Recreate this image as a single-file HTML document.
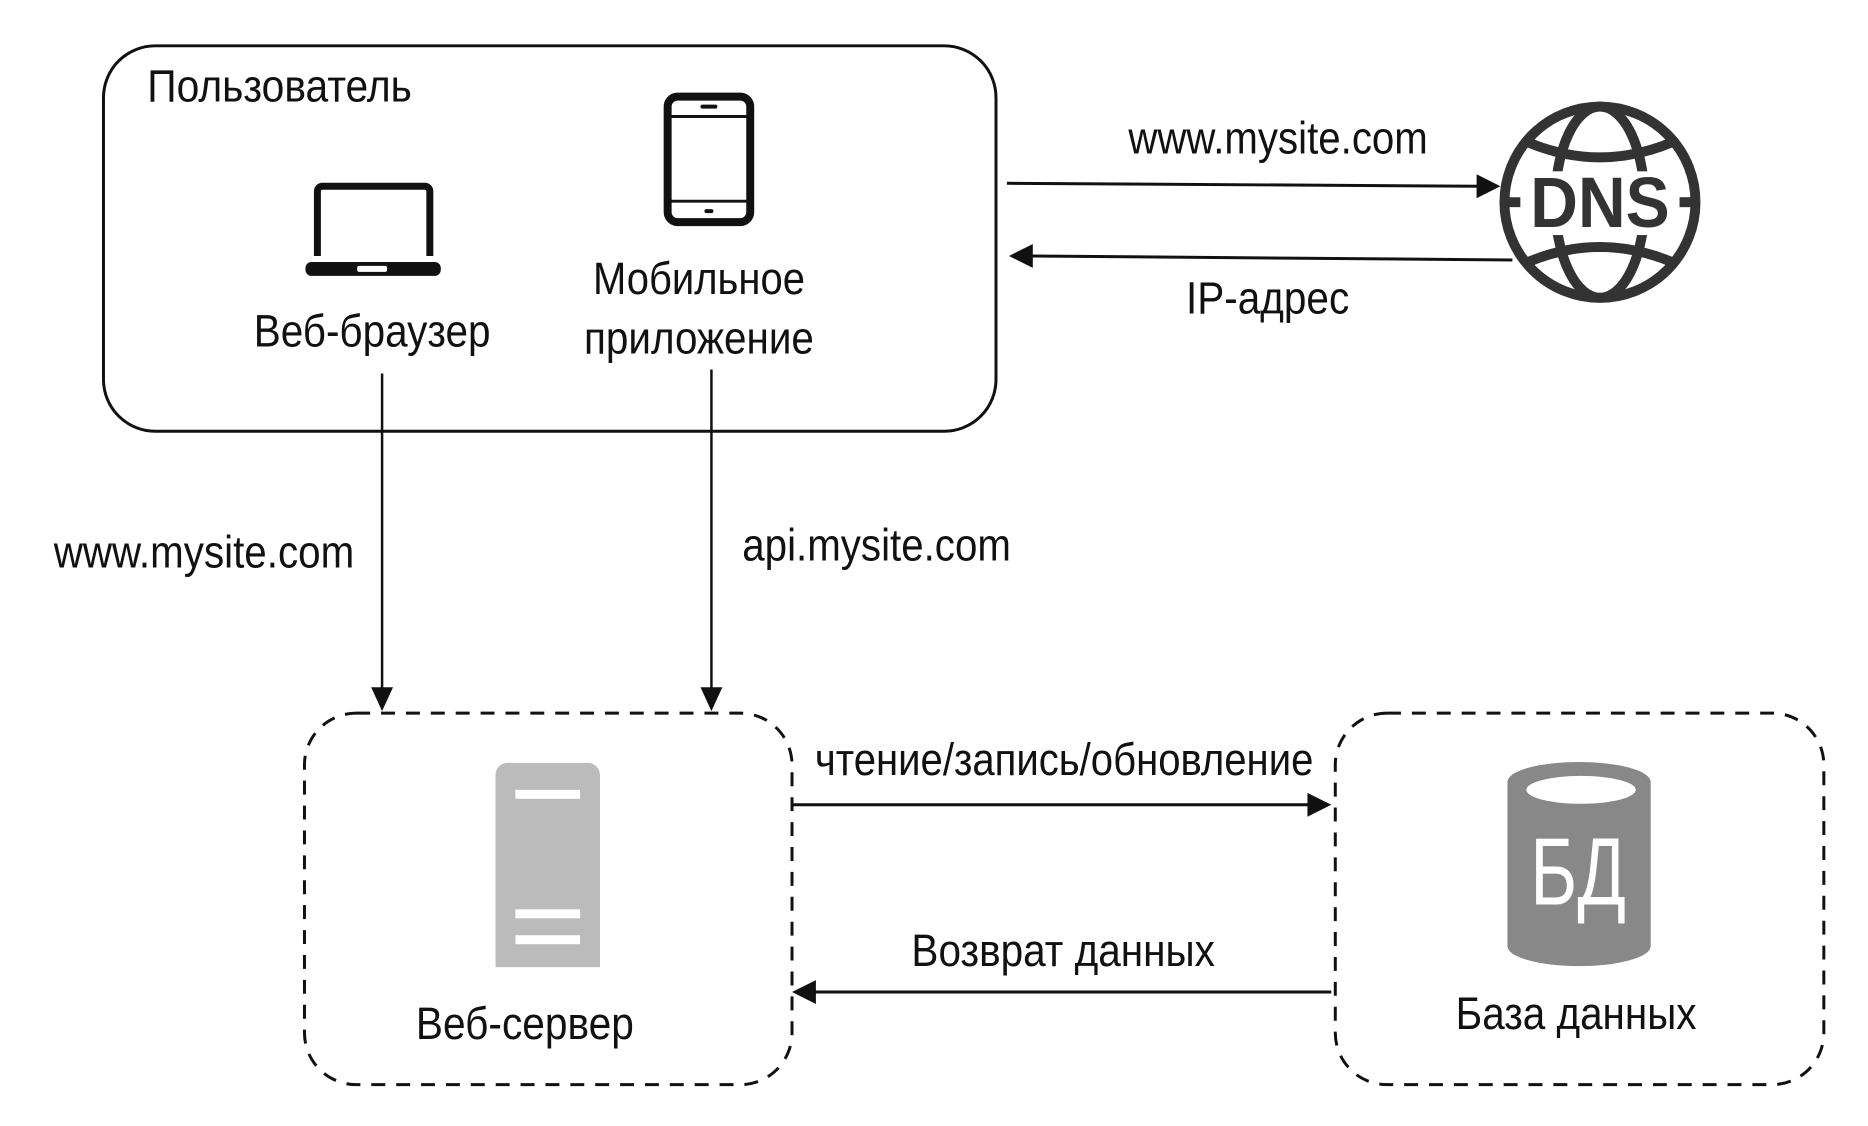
<!DOCTYPE html>
<html><head><meta charset="utf-8"><style>
html,body{margin:0;padding:0;background:#fff}
svg{display:block}
text{font-family:"Liberation Sans","Noto Sans CJK SC",sans-serif;fill:#111;font-size:46px}
</style></head><body>
<svg width="1868" height="1126" viewBox="0 0 1868 1126" xmlns="http://www.w3.org/2000/svg">
<g transform="scale(0.995,0.996)">
<!-- user box -->
<rect x="104" y="46" width="897" height="387" rx="52" fill="none" stroke="#111" stroke-width="3"/>
<text x="148" y="102" textLength="266" lengthAdjust="spacingAndGlyphs">Пользователь</text>
<!-- laptop -->
<path d="M319,257 V192 a5,5 0 0 1 5,-5 H427 a5,5 0 0 1 5,5 V257" fill="none" stroke="#111" stroke-width="7"/>
<rect x="307" y="263" width="136" height="14" rx="6" fill="#111"/>
<rect x="359" y="267" width="30" height="6" rx="2" fill="#fff"/>
<!-- phone -->
<rect x="671" y="97" width="83" height="126" rx="10" fill="none" stroke="#111" stroke-width="8"/>
<line x1="671" y1="117" x2="754" y2="117" stroke="#111" stroke-width="3"/>
<line x1="671" y1="202" x2="754" y2="202" stroke="#111" stroke-width="3"/>
<rect x="704" y="105" width="17" height="4" rx="2" fill="#111"/>
<rect x="708" y="210" width="9" height="4" rx="2" fill="#111"/>
<text x="255" y="348" textLength="238" lengthAdjust="spacingAndGlyphs">Веб-браузер</text>
<text x="596" y="295" textLength="213" lengthAdjust="spacingAndGlyphs">Мобильное</text>
<text x="587" y="355" textLength="231" lengthAdjust="spacingAndGlyphs">приложение</text>
<!-- DNS globe -->
<g transform="translate(1608,203)" fill="none" stroke="#333" stroke-width="10">
<circle r="96"/>
<ellipse rx="45" ry="96"/>
<path d="M-72,-60 Q0,-30 72,-60"/>
<path d="M-72,60 Q0,30 72,60"/>
<line x1="-96" y1="0" x2="-80" y2="0"/>
<line x1="80" y1="0" x2="96" y2="0"/>
</g>
<rect x="1533" y="172" width="150" height="64" fill="#fff"/>
<text x="1608" y="228" text-anchor="middle" style="font-size:72px;font-weight:bold;fill:#333" textLength="140" lengthAdjust="spacingAndGlyphs">DNS</text>
<!-- top arrows -->
<line x1="1012" y1="184" x2="1486" y2="187" stroke="#111" stroke-width="3"/>
<polygon points="1508,187 1484,175 1484,199" fill="#111"/>
<line x1="1520" y1="261" x2="1036" y2="257" stroke="#111" stroke-width="3"/>
<polygon points="1014,257 1038,245 1038,269" fill="#111"/>
<text x="1134" y="154" textLength="301" lengthAdjust="spacingAndGlyphs">www.mysite.com</text>
<text x="1192" y="315" textLength="164" lengthAdjust="spacingAndGlyphs">IP-адрес</text>
<!-- vertical arrows -->
<line x1="384" y1="375" x2="384" y2="693" stroke="#111" stroke-width="2.5"/>
<polygon points="384,714 373,690 395,690" fill="#111"/>
<line x1="715" y1="371" x2="715" y2="693" stroke="#111" stroke-width="2.5"/>
<polygon points="715,714 704,690 726,690" fill="#111"/>
<text x="54" y="570" textLength="302" lengthAdjust="spacingAndGlyphs">www.mysite.com</text>
<text x="746" y="563" textLength="270" lengthAdjust="spacingAndGlyphs">api.mysite.com</text>
<!-- dashed boxes -->
<rect x="306" y="716" width="490" height="373" rx="52" fill="none" stroke="#111" stroke-width="3" stroke-dasharray="14,11"/>
<rect x="1342" y="716" width="491" height="373" rx="52" fill="none" stroke="#111" stroke-width="3" stroke-dasharray="14,11"/>
<!-- server -->
<path d="M498,971 V778 a12,12 0 0 1 12,-12 H591 a12,12 0 0 1 12,12 V971 Z" fill="#bbbbbb"/>
<rect x="518" y="793" width="65" height="9" fill="#fff"/>
<rect x="518" y="913" width="65" height="9" fill="#fff"/>
<rect x="518" y="939" width="65" height="9" fill="#fff"/>
<text x="418" y="1043" textLength="219" lengthAdjust="spacingAndGlyphs">Веб-сервер</text>
<!-- db -->
<path d="M1515,785 a72,20 0 0 1 144,0 V950 a72,20 0 0 1 -144,0 Z" fill="#888"/>
<ellipse cx="1589" cy="793" rx="55" ry="14" fill="#fff"/>
<text x="1586" y="908" text-anchor="middle" style="font-size:96px;fill:#fff" textLength="96" lengthAdjust="spacingAndGlyphs">БД</text>
<text x="1463" y="1033" textLength="242" lengthAdjust="spacingAndGlyphs">База данных</text>
<!-- bottom arrows -->
<line x1="796" y1="808" x2="1316" y2="808" stroke="#111" stroke-width="3"/>
<polygon points="1338,808 1314,796 1314,820" fill="#111"/>
<line x1="1338" y1="996" x2="818" y2="996" stroke="#111" stroke-width="3"/>
<polygon points="796,996 820,984 820,1008" fill="#111"/>
<text x="819" y="778" textLength="501" lengthAdjust="spacingAndGlyphs">чтение/запись/обновление</text>
<text x="916" y="970" textLength="305" lengthAdjust="spacingAndGlyphs">Возврат данных</text>
</g>
</svg>
</body></html>
